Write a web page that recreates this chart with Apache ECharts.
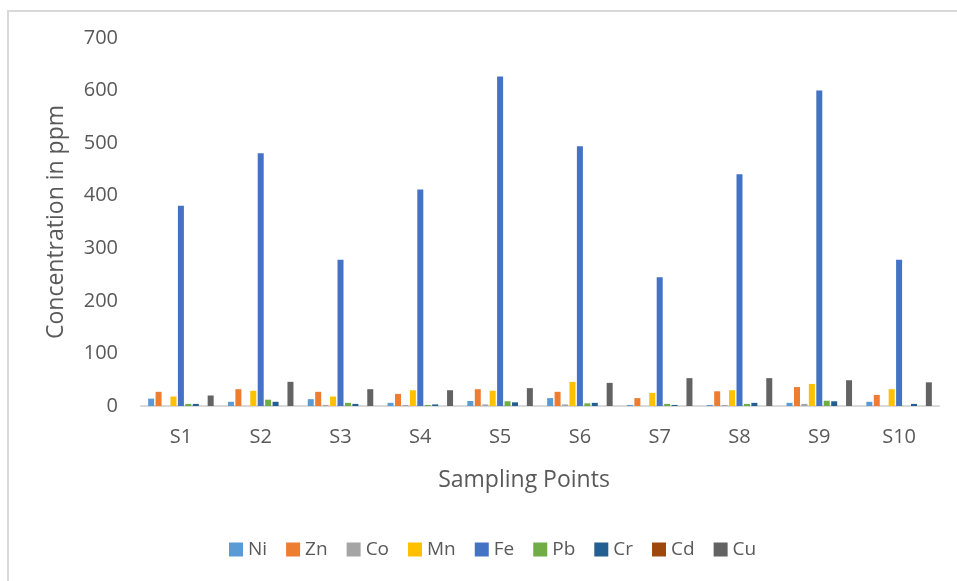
<!DOCTYPE html>
<html>
<head>
<meta charset="utf-8">
<script src="https://cdn.jsdelivr.net/npm/echarts@6/dist/echarts.min.js"></script>
<style>
  html, body { margin: 0; padding: 0; background: #fff; overflow: hidden; }
  #frame { position: absolute; left: 7px; top: 10px; width: 980px; height: 600px; border: 2px solid #d9d9d9; box-sizing: border-box; }
  #chart { position: absolute; left: 0; top: 0; width: 957px; height: 581px; }
</style>
</head>
<body>
<div id="frame"></div>
<div id="chart"></div>
<script>
// sampling points
var categories = ['S1', 'S2', 'S3', 'S4', 'S5', 'S6', 'S7', 'S8', 'S9', 'S10'];
var metals = ['Ni', 'Zn', 'Co', 'Mn', 'Fe', 'Pb', 'Cr', 'Cd', 'Cu'];
var colors = ['#5B9BD5', '#ED7D31', '#A5A5A5', '#FFC000', '#4472C4', '#70AD47', '#255E91', '#9E480E', '#636363'];

// concentrations in ppm
var ni = [14, 8, 13, 6, 9.5, 15, 2, 2, 6, 8];
var zn = [27, 32, 27, 23, 32, 27, 15, 28, 36, 21];
var co = [0, 0, 2, 2, 3, 3, 0, 2, 4, 0];
var mn = [18, 29, 18, 30, 29, 46, 25, 30, 42, 32];
var fe = [381, 481, 278, 412, 627, 494, 245, 441, 600, 278];
var pb = [4, 12, 6, 2, 9, 5, 4, 4, 10, 0];
var cr = [4, 8, 4, 3, 7, 6, 2, 6, 9, 4];
var cd = [0, 0, 0, 0, 0, 0, 0, 0, 0, 0];
var cu = [20, 46, 32, 30, 34, 44, 53, 53, 49, 45];

var yTicks = [0, 100, 200, 300, 400, 500, 600, 700];

var allData = [ni, zn, co, mn, fe, pb, cr, cd, cu];
var fontName = '"Open Sans", "Liberation Sans", sans-serif';

var chart = echarts.init(document.getElementById('chart'));
var series = [];
metals.forEach(function (m, i) {
  series.push({
    name: m,
    type: 'bar',
    data: allData[i],
    barWidth: 6,
    barGap: '24%',
    itemStyle: { color: colors[i] }
  });
});

var option = {
  animation: false,
  color: colors,
  grid: { left: 141, right: 18, top: 38, bottom: 175 },
  legend: {
    data: metals,
    left: 224,
    top: 535,
    itemWidth: 14,
    itemHeight: 14,
    itemGap: 19,
    icon: 'rect',
    textStyle: { color: '#595959', fontSize: 19, fontFamily: fontName }
  },
  xAxis: {
    type: 'category',
    data: categories,
    axisLine: { lineStyle: { color: '#d9d9d9', width: 2 } },
    axisTick: { show: false },
    axisLabel: { color: '#595959', fontSize: 20, fontFamily: fontName, margin: 21 },
    name: 'Sampling Points',
    nameLocation: 'middle',
    nameGap: 63,
    nameTextStyle: { color: '#595959', fontSize: 23, fontFamily: fontName, padding: [0, 32, 0, 0] }
  },
  yAxis: {
    type: 'value',
    min: yTicks[0],
    max: yTicks[yTicks.length - 1],
    interval: 100,
    splitLine: { show: false },
    axisLine: { show: false },
    axisTick: { show: false },
    axisLabel: { color: '#595959', fontSize: 20, fontFamily: fontName, margin: 23 },
    name: 'Concentration in ppm',
    nameLocation: 'middle',
    nameGap: 73,
    nameTextStyle: { color: '#595959', fontSize: 23, fontFamily: fontName }
  },
  series: series
};
chart.setOption(option);
</script>
</body>
</html>
